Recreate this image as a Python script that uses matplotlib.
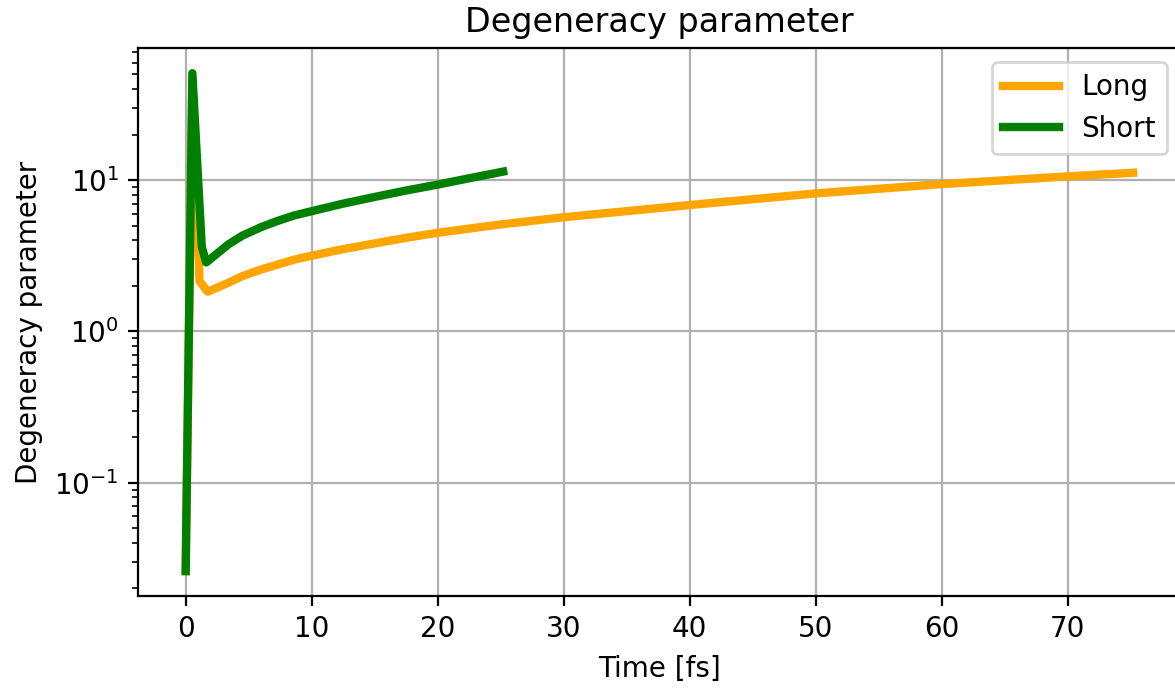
from matplotlib import pyplot as plt

# values
t_long = [0.0, 0.53, 1.1, 1.75, 3.4, 4.5, 6.0, 8.6, 10.0, 12.5, 15.0, 17.5, 20.0, 25.0, 30.0, 40.0, 50.0, 60.0, 70.0, 75.2]
eta_long = [0.026, 45.0, 2.15, 1.83, 2.1, 2.32, 2.57, 2.98, 3.17, 3.5, 3.82, 4.16, 4.49, 5.1, 5.69, 6.85, 8.18, 9.42, 10.6, 11.2]

t_short = [0.0, 0.53, 1.28, 1.63, 3.4, 4.5, 6.0, 7.3, 8.6, 10.0, 12.5, 15.0, 17.5, 20.0, 22.5, 25.2]
eta_short = [0.026, 51.0, 3.62, 2.86, 3.77, 4.3, 4.9, 5.38, 5.84, 6.24, 7.0, 7.75, 8.55, 9.35, 10.3, 11.4]

fig = plt.figure(figsize=(5.875, 3.45), dpi=200)
ax = fig.add_axes([0.1177, 0.1362, 0.887, 0.7938])

ax.plot(t_long, eta_long, color="orange", linewidth=3, label="Long")
ax.plot(t_short, eta_short, color="green", linewidth=3, label="Short")

ax.set_yscale("log")
ax.grid(True)
ax.legend(loc="upper right")

ax.set_xlabel("Time [fs]")
ax.set_ylabel("Degeneracy parameter")
ax.set_title("Degeneracy parameter")

fig.savefig("out.png", dpi=200)
